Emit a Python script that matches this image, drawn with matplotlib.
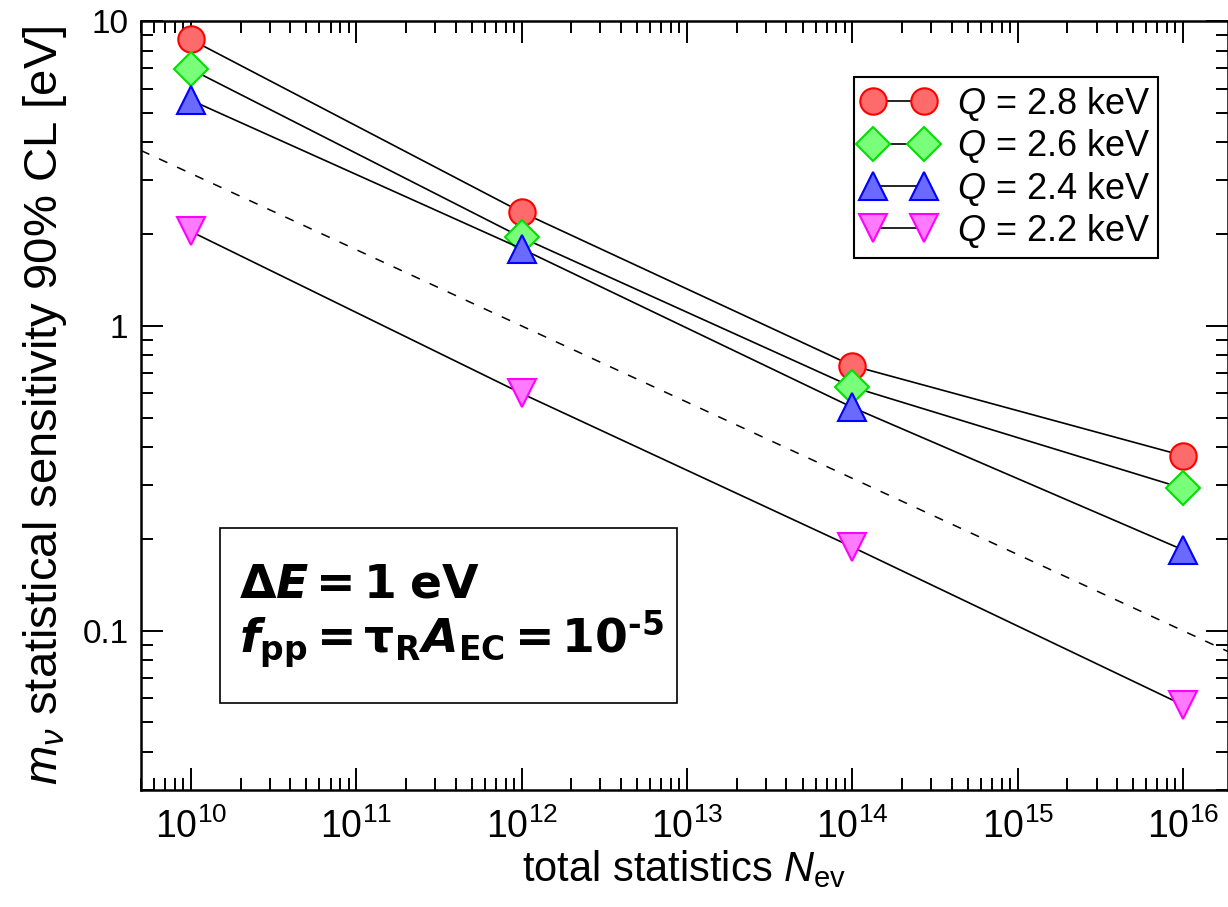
import matplotlib
matplotlib.use("Agg")
import matplotlib.pyplot as plt
from matplotlib.ticker import (LogLocator, FixedLocator, FixedFormatter,
                               NullFormatter, LogFormatterSciNotation)
from matplotlib.patches import Rectangle

# data
N_ev   = [1e10, 1e12, 1e14, 1e16]
m_28   = [8.7, 2.36, 0.74, 0.375]
m_26   = [6.95, 1.95, 0.63, 0.293]
m_24   = [5.5, 1.79, 0.54, 0.184]
m_22   = [2.04, 0.60, 0.188, 0.057]
ref_x  = [5e9, 2e16]          # dashed N^-1/4 guide
ref_y  = [3.76, 0.084]
labels = [r"$Q$ = 2.8 keV", r"$Q$ = 2.6 keV", r"$Q$ = 2.4 keV", r"$Q$ = 2.2 keV"]
x_ticks  = [1e10, 1e11, 1e12, 1e13, 1e14, 1e15, 1e16]
y_ticks  = [0.1, 1, 10]
y_labels = ["0.1", "1", "10"]

plt.rcParams["font.family"] = ["Liberation Sans", "DejaVu Sans"]
plt.rcParams["mathtext.fontset"] = "custom"
plt.rcParams["mathtext.rm"] = "Liberation Sans"
plt.rcParams["mathtext.it"] = "Liberation Sans:italic"
plt.rcParams["mathtext.bf"] = "DejaVu Sans:bold"
plt.rcParams["mathtext.bfit"] = "DejaVu Sans:italic:bold"

fig = plt.figure(figsize=(12.28, 9.07), dpi=100)
ax = fig.add_axes([141 / 1228, 117 / 907, 1087 / 1228, 769 / 907])

styles = [
    (m_28, "o", "#ff0000", "#ff6a6a", 19),
    (m_26, "D", "#00e000", "#7aff7a", 17),
    (m_24, "^", "#0000ff", "#6a6aff", 20),
    (m_22, "v", "#ff00ff", "#ff7aff", 20),
]
for (vals, mk, ec, fc, ms), lab in zip(styles, labels):
    ax.plot(N_ev, vals, color="black", lw=1.2, marker=mk, ms=ms,
            mfc=fc, mec=ec, mew=1.5, label=lab)

ax.plot(ref_x, ref_y, color="black", lw=1.1, ls=(0, (6, 7)), zorder=1)

ax.set_xscale("log")
ax.set_yscale("log")
ax.set_xlim(5e9, 1.87e16)
ax.set_ylim(0.03, 10)

ax.xaxis.set_major_locator(FixedLocator(x_ticks))
ax.xaxis.set_major_formatter(LogFormatterSciNotation())
ax.xaxis.set_minor_locator(LogLocator(base=10, subs=range(2, 10), numticks=100))
ax.xaxis.set_minor_formatter(NullFormatter())
ax.yaxis.set_major_locator(FixedLocator(y_ticks))
ax.yaxis.set_major_formatter(FixedFormatter(y_labels))
ax.yaxis.set_minor_locator(LogLocator(base=10, subs=range(2, 10), numticks=100))
ax.yaxis.set_minor_formatter(NullFormatter())

ax.tick_params(which="both", direction="in", top=True, right=True, width=1.4)
ax.tick_params(which="major", length=16)
ax.tick_params(which="minor", length=8.5)
ax.tick_params(axis="x", which="major", pad=13, labelsize=27)
ax.tick_params(axis="y", which="major", pad=9, labelsize=24)
for sp in ax.spines.values():
    sp.set_linewidth(1.8)

ax.set_xlabel(r"total statistics $N_{\mathrm{ev}}$", fontsize=30, labelpad=2)
ax.set_ylabel(r"$m_\nu$ statistical sensitivity 90% CL [eV]", fontsize=34)
ax.yaxis.set_label_coords(-0.066, 0.5)

leg = ax.legend(loc="upper right", bbox_to_anchor=(0.936, 0.927), borderaxespad=0,
                fontsize=26, numpoints=2, handlelength=2.0, handletextpad=0.62,
                labelspacing=0.12, borderpad=0.22, fancybox=False, framealpha=1,
                edgecolor="black")
leg.get_frame().set_linewidth(1.5)

# parameter box
ax.add_patch(Rectangle((0.0727, 0.113), 0.42, 0.228, transform=ax.transAxes,
                       facecolor="white", edgecolor="black", lw=1.2, zorder=5))
ax.text(0.09, 0.2497, r"$\mathbf{\Delta}\mathbfit{E}\mathbf{=1\ eV}$",
        transform=ax.transAxes, fontsize=34, va="baseline", ha="left", zorder=6)
ax.text(0.09, 0.178,
        r"$\mathbfit{f}_{\mathbf{pp}}\mathbf{=\tau_{R}}\mathbfit{A}_{\mathbf{EC}}\mathbf{=10^{‐5}}$",
        transform=ax.transAxes, fontsize=34, va="baseline", ha="left", zorder=6)

fig.savefig("out.png", dpi=100)
